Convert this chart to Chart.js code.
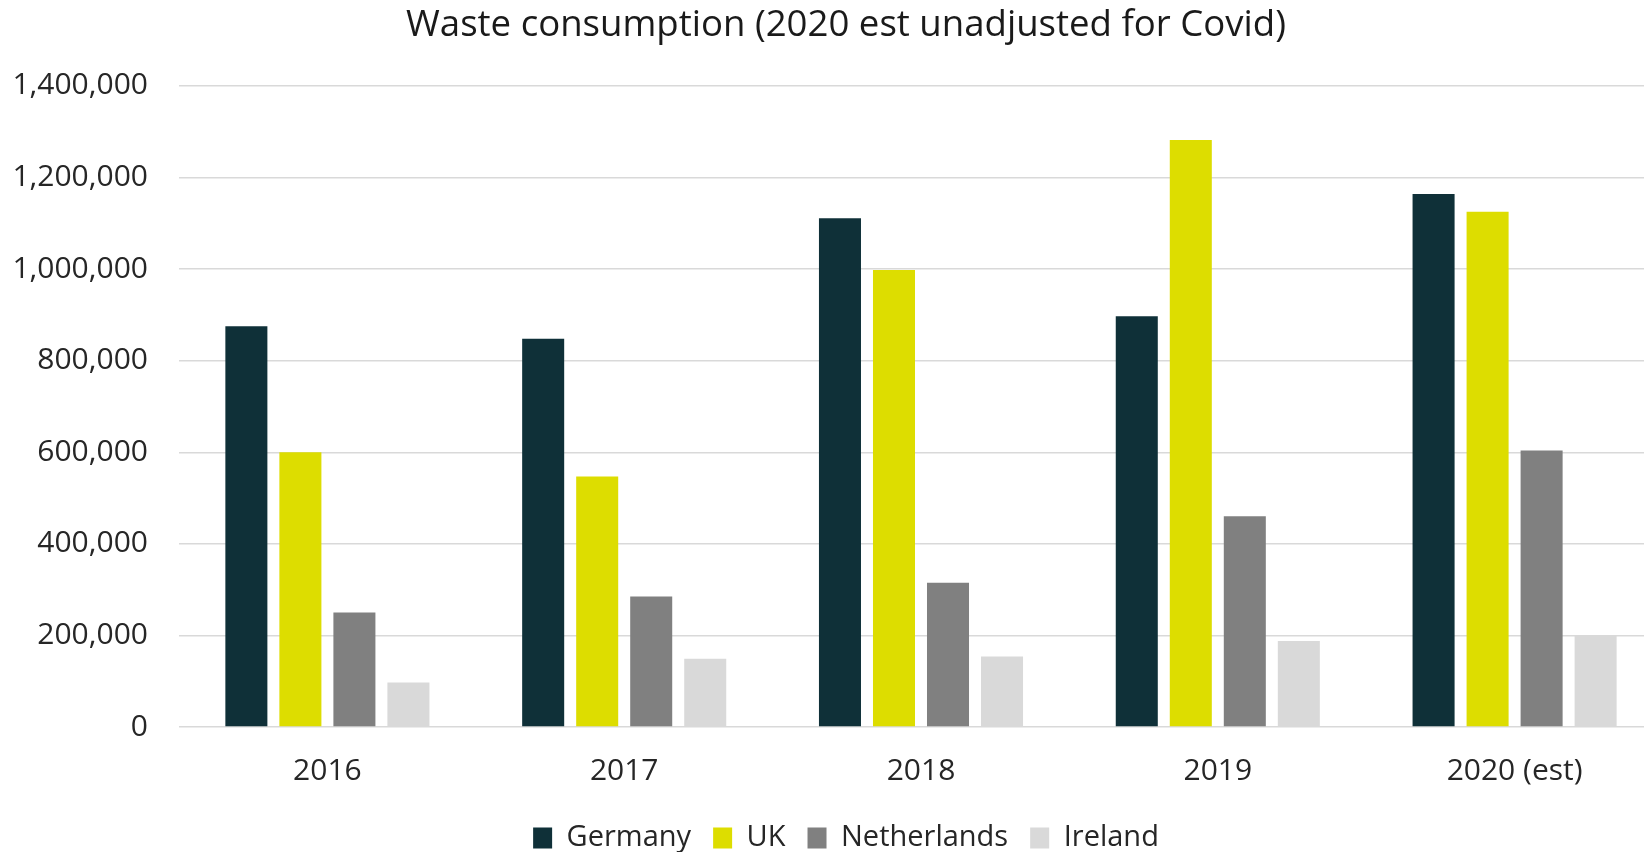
<!DOCTYPE html>
<html>
<head>
<meta charset="utf-8">
<script src="https://cdn.jsdelivr.net/npm/chart.js@4/dist/chart.umd.min.js"></script>
<style>
  html, body { margin: 0; padding: 0; background: #fff; overflow: hidden; }
  #wrap { position: relative; width: 1692px; height: 852px; }
</style>
</head>
<body>
<div id="wrap"><canvas id="c"></canvas></div>
<script>
const categories = ['2016', '2017', '2018', '2019', '2020 (est)'];
const germany     = [875000, 848000, 1111000, 897000, 1164000];
const uk          = [600000, 547000, 998000, 1282000, 1125000];
const netherlands = [250000, 285000, 315000, 460000, 604000];
const ireland     = [97000, 149000, 154000, 188000, 200000];
const yTicks = [0, 200000, 400000, 600000, 800000, 1000000, 1200000, 1400000];
const titleText = 'Waste consumption (2020 est unadjusted for Covid)';

const FONT = '"Open Sans", "Noto Sans", sans-serif';
const TEXT = '#262626';

new Chart(document.getElementById('c'), {
  type: 'bar',
  data: {
    labels: categories,
    datasets: [
      { label: 'Germany', data: germany, backgroundColor: '#0f3038' },
      { label: 'UK', data: uk, backgroundColor: '#dddd00' },
      { label: 'Netherlands', data: netherlands, backgroundColor: '#808080' },
      { label: 'Ireland', data: ireland, backgroundColor: '#d9d9d9' }
    ]
  },
  options: {
    responsive: true,
    maintainAspectRatio: false,
    animation: false,
    devicePixelRatio: 1,
    layout: { padding: { left: 0, right: 0, top: 4, bottom: 0 } },
    datasets: { bar: { categoryPercentage: 0.728, barPercentage: 0.778 } },
    plugins: {
      title: {
        display: true,
        text: titleText,
        color: '#1a1a1a',
        font: { family: FONT, size: 36.6, weight: 'normal' },
        padding: { top: 0, bottom: 38 }
      },
      legend: {
        position: 'bottom',
        maxHeight: 50.5,
        labels: {
          color: TEXT,
          font: { family: FONT, size: 29 },
          boxWidth: 19,
          boxHeight: 21,
          padding: 22
        }
      },
      tooltip: { enabled: false }
    },
    scales: {
      x: {
        grid: { display: false, drawTicks: false },
        border: { display: false },
        ticks: { color: TEXT, font: { family: FONT, size: 30 }, padding: 26 },
        afterFit: (axis) => { axis.height = 74.5; }
      },
      y: {
        min: 0,
        max: 1400000,
        afterBuildTicks: (axis) => { axis.ticks = yTicks.map(v => ({ value: v })); },
        afterFit: (axis) => { axis.width = 179; },
        grid: { color: '#d9d9d9', lineWidth: 1.5, drawTicks: false },
        border: { display: false },
        ticks: {
          color: TEXT,
          font: { family: FONT, size: 30 },
          padding: 31,
          callback: (v) => Number(v).toLocaleString('en-US')
        }
      },
      yR: {
        position: 'right',
        display: true,
        grid: { display: false, drawTicks: false },
        border: { display: false },
        ticks: { display: false },
        afterFit: (axis) => { axis.width = 29; }
      }
    }
  }
});
</script>
</body>
</html>
